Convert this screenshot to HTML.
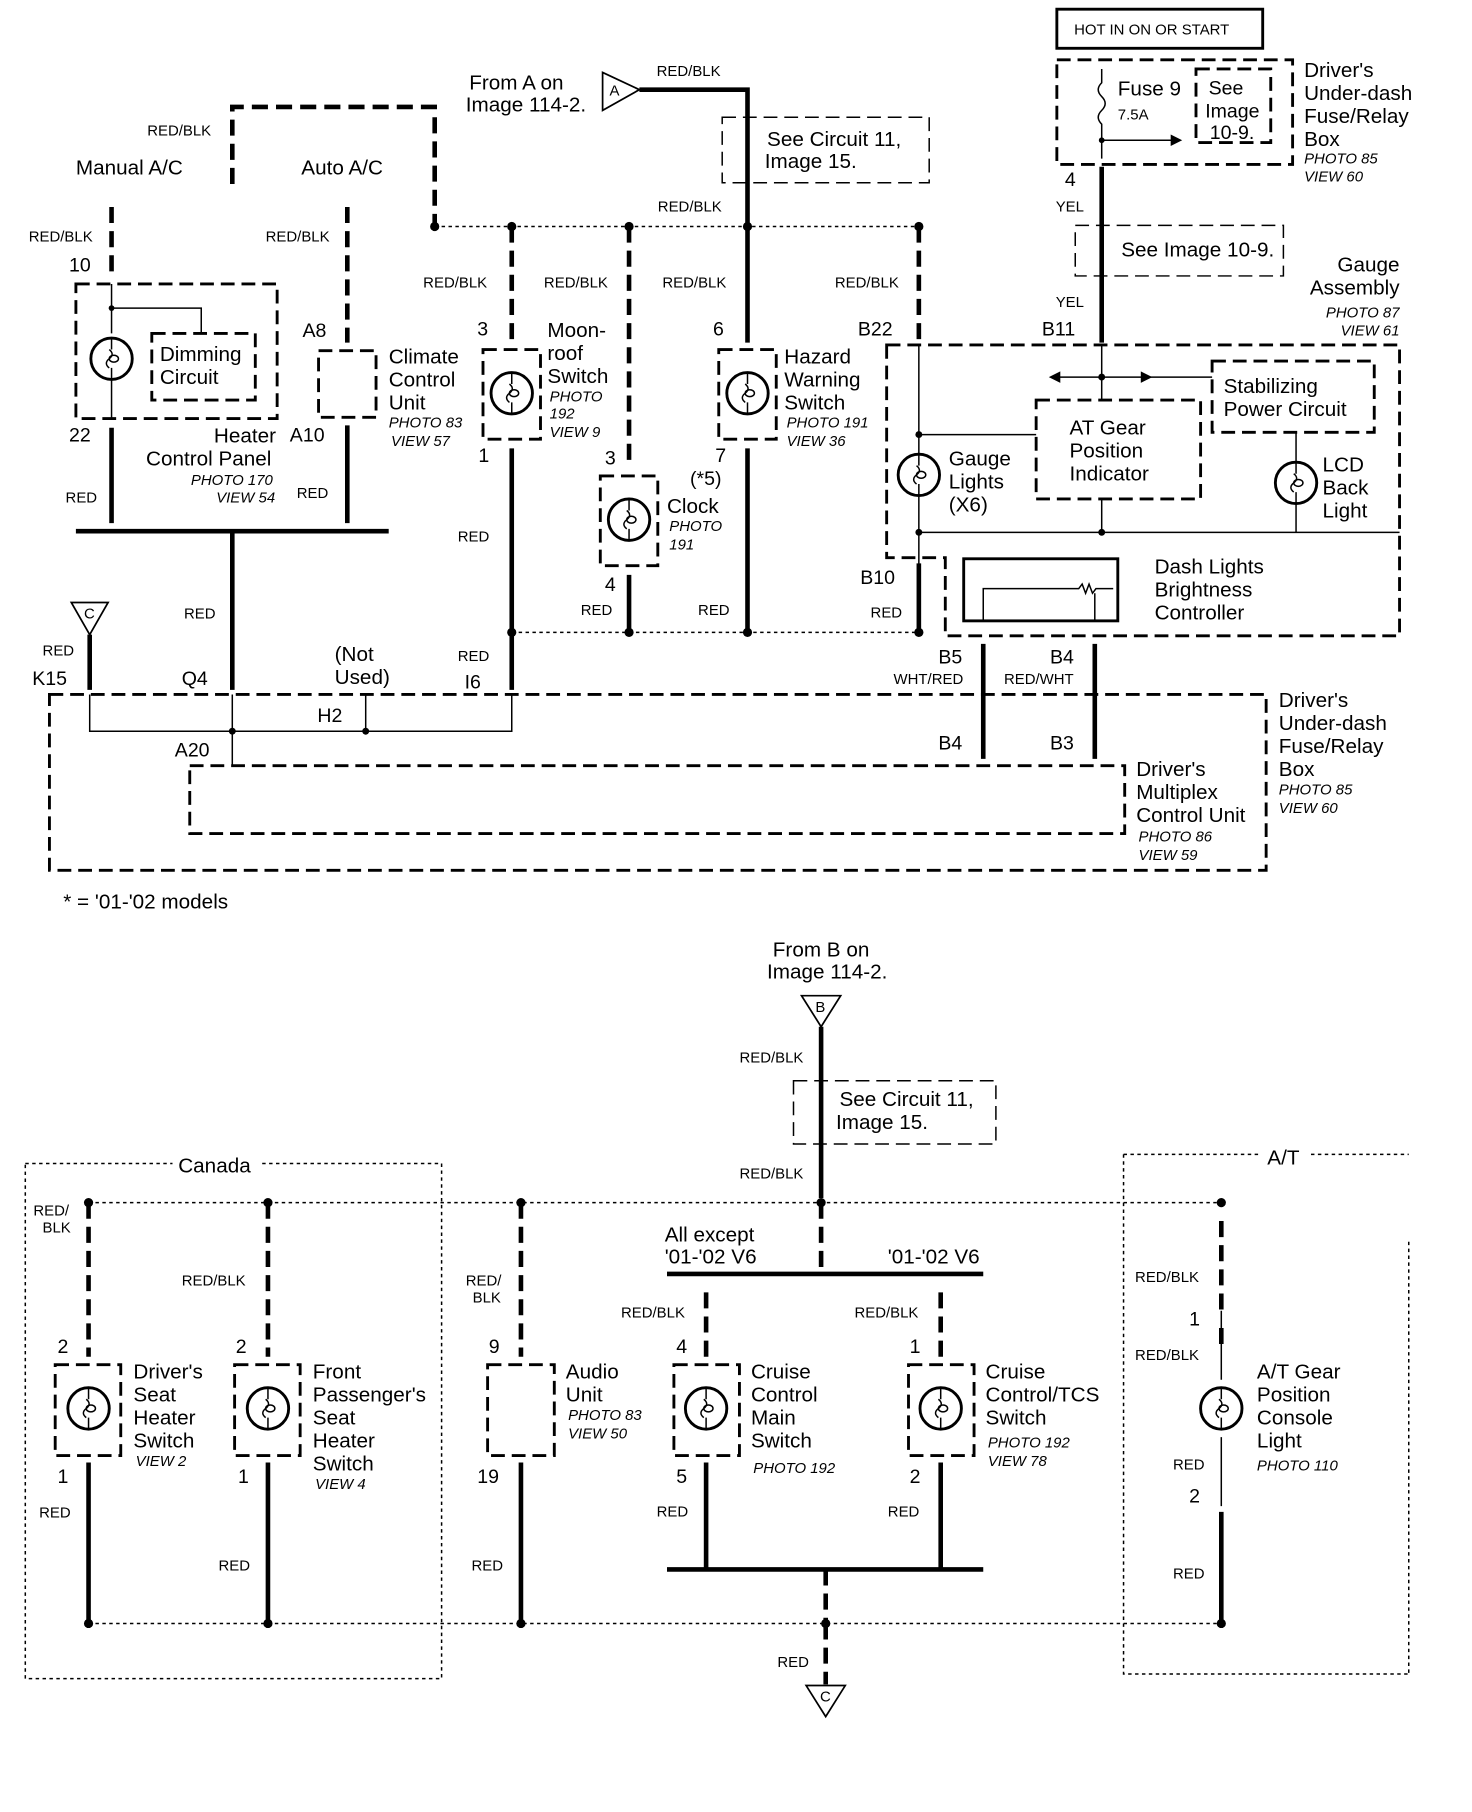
<!DOCTYPE html>
<html><head><meta charset="utf-8"><style>
html,body{margin:0;padding:0;background:#fff}
svg{display:block}
text{font-family:"Liberation Sans",sans-serif;fill:#000}
.l{font-size:18px}.w{font-size:13px}.p{font-size:13px;font-style:italic}.n{font-size:17px}
.t{stroke:#000;stroke-width:4;fill:none}
.td{stroke:#000;stroke-width:4;fill:none;stroke-dasharray:14 7}
.th{stroke:#000;stroke-width:1.3;fill:none}
.dt{stroke:#000;stroke-width:1.3;fill:none;stroke-dasharray:3 3}
.bx{stroke:#000;stroke-width:2.5;fill:none;stroke-dasharray:12 6}
.lb{stroke:#000;stroke-width:1.3;fill:none;stroke-dasharray:12 6}
.s{stroke:#000;stroke-width:2.5;fill:none}
</style></head><body>
<svg width="1472" height="1812" viewBox="0 0 1280 1576" preserveAspectRatio="none" xmlns="http://www.w3.org/2000/svg">
<defs>
<g id="bulb"><circle r="18" fill="#fff" stroke="#000" stroke-width="2.5"/><path d="M0,-18 v10 M0,18 v-10 M-2,-8 q5,4 0,8 q-5,4 0,8" class="th"/><ellipse cx="2" cy="0" rx="4" ry="3" class="th"/></g>
</defs>
<!-- TOP -->
<rect x="919" y="8" width="179" height="34" class="s" stroke-width="1.5"/>
<text x="934" y="30" class="w" font-size="14">HOT IN ON OR START</text>
<rect x="919" y="52" width="205" height="91" class="bx"/>
<text x="972" y="83" class="l">Fuse 9</text><text x="972" y="104" class="w">7.5A</text>
<rect x="1040" y="60" width="65" height="64" class="bx"/>
<text x="1051" y="82" class="n">See</text><text x="1048" y="102" class="n">Image</text><text x="1052" y="121" class="n">10-9.</text>
<path d="M958,60 v12 q-6,6 0,12 q6,6 0,12 q-6,6 0,12 v30" class="th"/>
<path d="M958,122 H1026" class="th"/><path d="M1018,117 L1028,122 L1018,127Z"/>
<circle cx="958" cy="122" r="2.5"/>
<text x="1134" y="67" class="l">Driver's</text><text x="1134" y="87" class="l">Under-dash</text><text x="1134" y="107" class="l">Fuse/Relay</text><text x="1134" y="127" class="l">Box</text>
<text x="1134" y="142" class="p">PHOTO 85</text><text x="1134" y="158" class="p">VIEW 60</text>
<path d="M958,145 V298" class="t"/>
<text x="926" y="162" class="n">4</text><text x="918" y="184" class="w">YEL</text>
<rect x="935" y="196" width="181" height="44" class="lb"/>
<text x="975" y="223" class="l">See Image 10-9.</text>
<text x="918" y="267" class="w">YEL</text><text x="906" y="292" class="n">B11</text>
<text x="1217" y="236" class="l" text-anchor="end">Gauge</text><text x="1217" y="256" class="l" text-anchor="end">Assembly</text>
<text x="1217" y="276" class="p" text-anchor="end">PHOTO 87</text><text x="1217" y="292" class="p" text-anchor="end">VIEW 61</text>
<path d="M771,300 H1217 V553 H822 V485 H771 Z" class="bx"/>
<rect x="901" y="348" width="143" height="86" class="bx"/>
<text x="930" y="378" class="l">AT Gear</text><text x="930" y="398" class="l">Position</text><text x="930" y="418" class="l">Indicator</text>
<rect x="1054" y="314" width="141" height="62" class="bx"/>
<text x="1064" y="342" class="l">Stabilizing</text><text x="1064" y="362" class="l">Power Circuit</text>
<path d="M958,300 V348 M918,328 H995 M995,328 H1054 M799,300 V548 M799,378 H901 M799,463 H1217 M958,434 V463 M1127,376 V402 M1127,438 V463" class="th"/>
<path d="M912,328 L922,323 L922,333Z"/><path d="M1002,328 L992,323 L992,333Z"/><circle cx="958" cy="328" r="3"/>
<circle cx="799" cy="378" r="3"/><circle cx="799" cy="463" r="3"/><circle cx="958" cy="463" r="3"/>
<use href="#bulb" x="799" y="413"/><use href="#bulb" x="1127" y="420"/>
<text x="825" y="405" class="l">Gauge</text><text x="825" y="425" class="l">Lights</text><text x="825" y="445" class="l">(X6)</text>
<text x="1150" y="410" class="l">LCD</text><text x="1150" y="430" class="l">Back</text><text x="1150" y="450" class="l">Light</text>
<rect x="838" y="486" width="134" height="54" class="s"/>
<path d="M855,540 V512 H938 l3,-4 l3,8 l3,-8 l3,8 l3,-4 H968 M952,516 V540" class="th"/>
<text x="1004" y="499" class="l">Dash Lights</text><text x="1004" y="519" class="l">Brightness</text><text x="1004" y="539" class="l">Controller</text>
<path d="M202,160 V93 H378 V197" class="td"/>
<text x="128" y="118" class="w">RED/BLK</text>
<text x="66" y="152" class="l">Manual A/C</text><text x="262" y="152" class="l">Auto A/C</text>
<text x="408" y="78" class="l">From A on</text><text x="405" y="97" class="l">Image 114-2.</text>
<path d="M524,63 L556,78 L524,96Z" fill="#fff" stroke="#000" stroke-width="1.5"/><text x="530" y="83" class="w" font-size="11">A</text>
<path d="M556,78 H650 V197" class="t"/>
<text x="571" y="66" class="w">RED/BLK</text>
<rect x="628" y="102" width="180" height="57" class="lb"/>
<text x="667" y="127" class="l">See Circuit 11,</text><text x="665" y="146" class="l">Image 15.</text>
<text x="572" y="184" class="w">RED/BLK</text>
<path d="M378,197 H799" class="dt"/>
<g fill="#000"><circle cx="378" cy="197" r="4"/><circle cx="445" cy="197" r="4"/><circle cx="547" cy="197" r="4"/><circle cx="650" cy="197" r="4"/><circle cx="799" cy="197" r="4"/></g>
<path d="M445,197 V298 M547,197 V402 M799,197 V298" class="td"/>
<path d="M650,197 V298" class="t"/>
<text x="368" y="250" class="w">RED/BLK</text><text x="473" y="250" class="w">RED/BLK</text><text x="576" y="250" class="w">RED/BLK</text><text x="726" y="250" class="w">RED/BLK</text>
<text x="746" y="292" class="n">B22</text>
<path d="M97,180 V240 M302,180 V298" class="td"/>
<text x="25" y="210" class="w">RED/BLK</text><text x="231" y="210" class="w">RED/BLK</text>
<text x="60" y="236" class="n">10</text>
<rect x="66" y="247" width="175" height="117" class="bx"/>
<path d="M97,247 V290 M97,330 V364 M97,268 H175 V290" class="th"/><circle cx="97" cy="268" r="2.5"/>
<use href="#bulb" x="97" y="312"/>
<rect x="132" y="290" width="90" height="58" class="bx"/>
<text x="139" y="314" class="l">Dimming</text><text x="139" y="334" class="l">Circuit</text>
<text x="60" y="384" class="n">22</text>
<path d="M97,372 V455 M302,370 V455" class="t"/>
<text x="186" y="385" class="l">Heater</text><text x="127" y="405" class="l">Control Panel</text>
<text x="166" y="422" class="p">PHOTO 170</text><text x="188" y="437" class="p">VIEW 54</text>
<text x="263" y="293" class="n">A8</text><text x="252" y="384" class="n">A10</text>
<rect x="277" y="305" width="50" height="58" class="bx"/>
<text x="338" y="316" class="l">Climate</text><text x="338" y="336" class="l">Control</text><text x="338" y="356" class="l">Unit</text>
<text x="338" y="372" class="p">PHOTO 83</text><text x="340" y="388" class="p">VIEW 57</text>
<text x="57" y="437" class="w">RED</text><text x="258" y="433" class="w">RED</text>
<path d="M66,462 H338" class="t"/><path d="M202,462 V600" class="t"/>
<text x="160" y="538" class="w">RED</text>
<text x="415" y="292" class="n">3</text>
<rect x="420" y="304" width="50" height="78" class="bx"/><use href="#bulb" x="445" y="342"/>
<text x="476" y="293" class="l">Moon-</text><text x="476" y="313" class="l">roof</text><text x="476" y="333" class="l">Switch</text>
<text x="478" y="349" class="p">PHOTO</text><text x="478" y="364" class="p">192</text><text x="478" y="380" class="p">VIEW 9</text>
<text x="416" y="402" class="n">1</text>
<path d="M445,390 V600" class="t"/><text x="398" y="471" class="w">RED</text>
<text x="620" y="292" class="n">6</text>
<rect x="625" y="304" width="50" height="78" class="bx"/><use href="#bulb" x="650" y="342"/>
<text x="682" y="316" class="l">Hazard</text><text x="682" y="336" class="l">Warning</text><text x="682" y="356" class="l">Switch</text>
<text x="684" y="372" class="p">PHOTO 191</text><text x="684" y="388" class="p">VIEW 36</text>
<text x="622" y="402" class="n">7</text>
<path d="M650,390 V548" class="t"/><text x="607" y="535" class="w">RED</text>
<text x="526" y="404" class="n">3</text><text x="600" y="422" class="n">(*5)</text>
<rect x="522" y="414" width="50" height="78" class="bx"/><use href="#bulb" x="547" y="452"/>
<text x="580" y="446" class="l">Clock</text><text x="582" y="462" class="p">PHOTO</text><text x="582" y="478" class="p">191</text>
<text x="526" y="514" class="n">4</text>
<path d="M547,500 V548" class="t"/><text x="505" y="535" class="w">RED</text>
<text x="748" y="508" class="n">B10</text><path d="M799,490 V548" class="t"/><text x="757" y="537" class="w">RED</text>
<path d="M445,550 H799" class="dt"/>
<g fill="#000"><circle cx="445" cy="550" r="4"/><circle cx="547" cy="550" r="4"/><circle cx="650" cy="550" r="4"/><circle cx="799" cy="550" r="4"/></g>
<path d="M855,560 V660 M952,560 V660" class="t"/>
<text x="816" y="577" class="n">B5</text><text x="913" y="577" class="n">B4</text>
<text x="777" y="595" class="w">WHT/RED</text><text x="873" y="595" class="w">RED/WHT</text>
<text x="816" y="652" class="n">B4</text><text x="913" y="652" class="n">B3</text>
<path d="M62,524 L94,524 L78,552Z" fill="#fff" stroke="#000" stroke-width="1.5"/><text x="73" y="538" class="w" font-size="11">C</text>
<path d="M78,552 V600" class="t"/>
<text x="37" y="570" class="w">RED</text><text x="28" y="596" class="n">K15</text>
<text x="158" y="596" class="n">Q4</text>
<text x="291" y="575" class="l">(Not</text><text x="291" y="595" class="l">Used)</text>
<path d="M318,604 V636" class="th"/>
<text x="398" y="575" class="w">RED</text><text x="404" y="599" class="n">I6</text>
<rect x="43" y="604" width="1058" height="153" class="bx"/>
<path d="M78,604 V636 H445 V604 M202,604 V666" class="th"/>
<circle cx="202" cy="636" r="3"/><circle cx="318" cy="636" r="3"/>
<text x="276" y="628" class="n">H2</text><text x="152" y="658" class="n">A20</text>
<rect x="165" y="666" width="813" height="59" class="bx"/>
<text x="988" y="675" class="l">Driver's</text><text x="988" y="695" class="l">Multiplex</text><text x="988" y="715" class="l">Control Unit</text>
<text x="990" y="732" class="p">PHOTO 86</text><text x="990" y="748" class="p">VIEW 59</text>
<text x="1112" y="615" class="l">Driver's</text><text x="1112" y="635" class="l">Under-dash</text><text x="1112" y="655" class="l">Fuse/Relay</text><text x="1112" y="675" class="l">Box</text>
<text x="1112" y="691" class="p">PHOTO 85</text><text x="1112" y="707" class="p">VIEW 60</text>
<text x="55" y="790" class="l" font-size="17">* =  '01-'02 models</text>
<!-- BOTTOM -->
<text x="672" y="832" class="l">From B on</text><text x="667" y="851" class="l">Image 114-2.</text>
<path d="M697,866 L731,866 L714,893Z" fill="#fff" stroke="#000" stroke-width="1.5"/><text x="709" y="880" class="w" font-size="11">B</text>
<path d="M714,893 V1042" class="t"/>
<text x="643" y="924" class="w">RED/BLK</text>
<rect x="690" y="940" width="176" height="55" class="lb"/>
<text x="730" y="962" class="l">See Circuit 11,</text><text x="727" y="982" class="l">Image 15.</text>
<text x="643" y="1025" class="w">RED/BLK</text>
<path d="M22,1012 H150 M228,1012 H384 V1460 H22 V1012" class="dt"/>
<text x="155" y="1020" class="l">Canada</text>
<path d="M977,1004 H1096 M1140,1004 H1225 M977,1004 V1456 H1225 M1225,1080 V1456" class="dt"/>
<text x="1102" y="1013" class="l">A/T</text>
<path d="M77,1046 H1062" class="dt"/>
<g fill="#000"><circle cx="77" cy="1046" r="4"/><circle cx="233" cy="1046" r="4"/><circle cx="453" cy="1046" r="4"/><circle cx="714" cy="1046" r="4"/><circle cx="1062" cy="1046" r="4"/></g>
<path d="M77,1046 V1180 M233,1046 V1180 M453,1046 V1180 M714,1046 V1108 M1062,1062 V1140 M1062,1155 V1170" class="td"/>
<path d="M580,1108 H855" class="t"/>
<text x="578" y="1080" class="l">All except</text><text x="578" y="1099" class="l">'01-'02 V6</text><text x="772" y="1099" class="l">'01-'02 V6</text>
<path d="M614,1124 V1180 M818,1124 V1180" class="td"/>
<text x="29" y="1057" class="w">RED/</text><text x="37" y="1072" class="w">BLK</text>
<text x="158" y="1118" class="w">RED/BLK</text><text x="405" y="1118" class="w">RED/</text><text x="411" y="1133" class="w">BLK</text>
<text x="540" y="1146" class="w">RED/BLK</text><text x="743" y="1146" class="w">RED/BLK</text>
<text x="987" y="1115" class="w">RED/BLK</text><text x="987" y="1183" class="w">RED/BLK</text>
<g><text x="50" y="1177" class="n">2</text><rect x="48" y="1187" width="57" height="79" class="bx"/><use href="#bulb" x="77" y="1225"/><text x="50" y="1290" class="n">1</text>
<text x="116" y="1199" class="l">Driver's</text><text x="116" y="1219" class="l">Seat</text><text x="116" y="1239" class="l">Heater</text><text x="116" y="1259" class="l">Switch</text><text x="118" y="1275" class="p">VIEW 2</text></g>
<g><text x="205" y="1177" class="n">2</text><rect x="204" y="1187" width="57" height="79" class="bx"/><use href="#bulb" x="233" y="1225"/><text x="207" y="1290" class="n">1</text>
<text x="272" y="1199" class="l">Front</text><text x="272" y="1219" class="l">Passenger's</text><text x="272" y="1239" class="l">Seat</text><text x="272" y="1259" class="l">Heater</text><text x="272" y="1279" class="l">Switch</text><text x="274" y="1295" class="p">VIEW 4</text></g>
<g><text x="425" y="1177" class="n">9</text><rect x="424" y="1187" width="58" height="79" class="bx"/><text x="415" y="1290" class="n">19</text>
<text x="492" y="1199" class="l">Audio</text><text x="492" y="1219" class="l">Unit</text><text x="494" y="1235" class="p">PHOTO 83</text><text x="494" y="1251" class="p">VIEW 50</text></g>
<g><text x="588" y="1177" class="n">4</text><rect x="586" y="1187" width="57" height="79" class="bx"/><use href="#bulb" x="614" y="1225"/><text x="588" y="1290" class="n">5</text>
<text x="653" y="1199" class="l">Cruise</text><text x="653" y="1219" class="l">Control</text><text x="653" y="1239" class="l">Main</text><text x="653" y="1259" class="l">Switch</text><text x="655" y="1281" class="p">PHOTO 192</text></g>
<g><text x="791" y="1177" class="n">1</text><rect x="790" y="1187" width="57" height="79" class="bx"/><use href="#bulb" x="818" y="1225"/><text x="791" y="1290" class="n">2</text>
<text x="857" y="1199" class="l">Cruise</text><text x="857" y="1219" class="l">Control/TCS</text><text x="857" y="1239" class="l">Switch</text><text x="859" y="1259" class="p">PHOTO 192</text><text x="859" y="1275" class="p">VIEW 78</text></g>
<g><text x="1034" y="1153" class="n">1</text><path d="M1062,1140 V1200 M1062,1250 V1310" class="th"/><use href="#bulb" x="1062" y="1225"/><text x="1034" y="1307" class="n">2</text>
<text x="1093" y="1199" class="l">A/T Gear</text><text x="1093" y="1219" class="l">Position</text><text x="1093" y="1239" class="l">Console</text><text x="1093" y="1259" class="l">Light</text><text x="1093" y="1279" class="p">PHOTO 110</text>
<text x="1020" y="1278" class="w">RED</text></g>
<path d="M77,1272 V1412 M233,1272 V1412 M453,1272 V1412 M614,1272 V1365 M818,1272 V1365 M1062,1315 V1412" class="t"/>
<path d="M580,1365 H855" class="t"/>
<path d="M718,1365 V1412" class="td"/><path d="M718,1412 V1465" class="td"/>
<text x="34" y="1320" class="w">RED</text><text x="190" y="1366" class="w">RED</text><text x="410" y="1366" class="w">RED</text>
<text x="571" y="1319" class="w">RED</text><text x="772" y="1319" class="w">RED</text><text x="1020" y="1373" class="w">RED</text>
<path d="M77,1412 H1062" class="dt"/>
<g fill="#000"><circle cx="77" cy="1412" r="4"/><circle cx="233" cy="1412" r="4"/><circle cx="453" cy="1412" r="4"/><circle cx="718" cy="1412" r="4"/><circle cx="1062" cy="1412" r="4"/></g>
<text x="676" y="1450" class="w">RED</text>
<path d="M701,1466 L735,1466 L718,1493Z" fill="#fff" stroke="#000" stroke-width="1.5"/><text x="713" y="1480" class="w" font-size="11">C</text>
</svg>
</body></html>
